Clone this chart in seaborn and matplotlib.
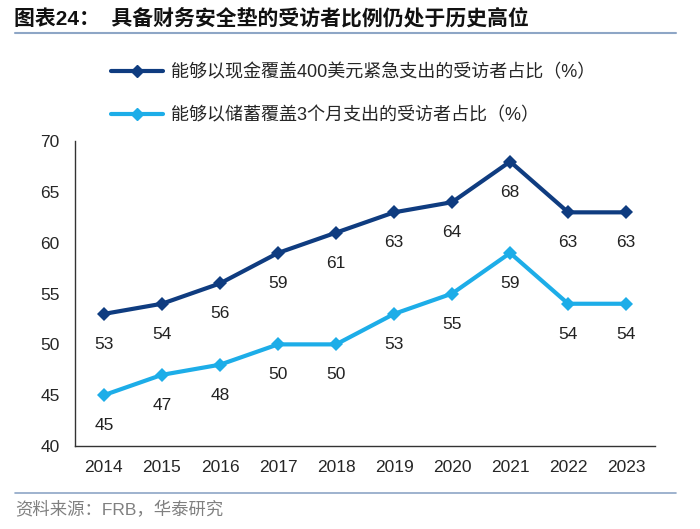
import numpy as np
import pandas as pd
import matplotlib
matplotlib.use('Agg')
import matplotlib.pyplot as plt
from matplotlib.lines import Line2D
import seaborn as sns

## 数据
years = ['2014', '2015', '2016', '2017', '2018', '2019', '2020', '2021', '2022', '2023']
cash_400 = [53, 54, 56, 59, 61, 63, 64, 68, 63, 63]
savings_3m = [45, 47, 48, 50, 50, 53, 55, 59, 54, 54]
name_cash = '能够以现金覆盖400美元紧急支出的受访者占比（%）'
name_save = '能够以储蓄覆盖3个月支出的受访者占比（%）'

sns.set_style('white')
plt.rcParams['font.family'] = ['Liberation Sans', 'Noto Sans CJK SC', 'DejaVu Sans']
plt.rcParams['axes.unicode_minus'] = False

df = pd.DataFrame({
	'year': years * 2,
	'value': cash_400 + savings_3m,
	'series': [name_cash] * len(years) + [name_save] * len(years),
})
df['x'] = list(range(len(years))) * 2

dark = '#0F3C80'
light = '#1DADE8'

fig = plt.figure(figsize=(7, 5.29), dpi=100)
ax = fig.add_axes([0.107, 0.157, 0.829, 0.576])

sns.lineplot(data=df, x='x', y='value', hue='series', palette=[dark, light],
	style='series', markers=['D', 'D'], dashes=False, markersize=7,
	markeredgewidth=0, linewidth=3, ax=ax, legend=False)

## 数据标签（均在点下方）
for vals in [cash_400, savings_3m]:
	for i, v in enumerate(vals):
		ax.annotate(str(v), (i, v), xytext=(0, -22), textcoords='offset points',
			ha='center', va='center', fontsize=12.5, color='#222222')

ax.set_xlim(-0.5, len(years) - 0.5)
ax.set_ylim(40, 70)
ax.set_yticks(range(40, 71, 5))
ax.set_xticks(np.arange(-0.5, len(years), 1))
ax.set_xticklabels([])
ax.set_xticks(range(len(years)), minor=True)
ax.set_xticklabels(years, minor=True)
ax.tick_params(axis='x', which='major', direction='out', length=6, width=1, color='#333333')
ax.tick_params(axis='x', which='minor', length=0, labelsize=12.5, pad=10)
ax.tick_params(axis='y', direction='out', length=5, width=1, color='#333333', labelsize=12.5, pad=6)
ax.set_xlabel('')
ax.set_ylabel('')
for s in ['top', 'right']:
	ax.spines[s].set_visible(False)
for s in ['left', 'bottom']:
	ax.spines[s].set_color('#333333')
	ax.spines[s].set_linewidth(1)

handles = [Line2D([], [], color=dark, lw=3, marker='D', markersize=6),
	Line2D([], [], color=light, lw=3, marker='D', markersize=6)]
fig.legend(handles, [name_cash, name_save], loc='upper left', bbox_to_anchor=(0.135, 0.91),
	frameon=False, fontsize=13, handlelength=2.9, labelspacing=1.4, handletextpad=0.45)

## 标题与来源
fig.text(0.02, 0.965, '图表24：  具备财务安全垫的受访者比例仍处于历史高位', fontsize=15,
	fontweight='bold', ha='left', va='center', color='#111111')
fig.add_artist(Line2D([0.021, 0.965], [0.937, 0.937], transform=fig.transFigure, color='#8EA6C6', lw=1.5))
fig.add_artist(Line2D([0.021, 0.965], [0.068, 0.068], transform=fig.transFigure, color='#8EA6C6', lw=1.2))
fig.text(0.021, 0.036, '资料来源：FRB，华泰研究', fontsize=12.5, color='#808080', ha='left', va='center')

plt.savefig('out.png', dpi=100)
